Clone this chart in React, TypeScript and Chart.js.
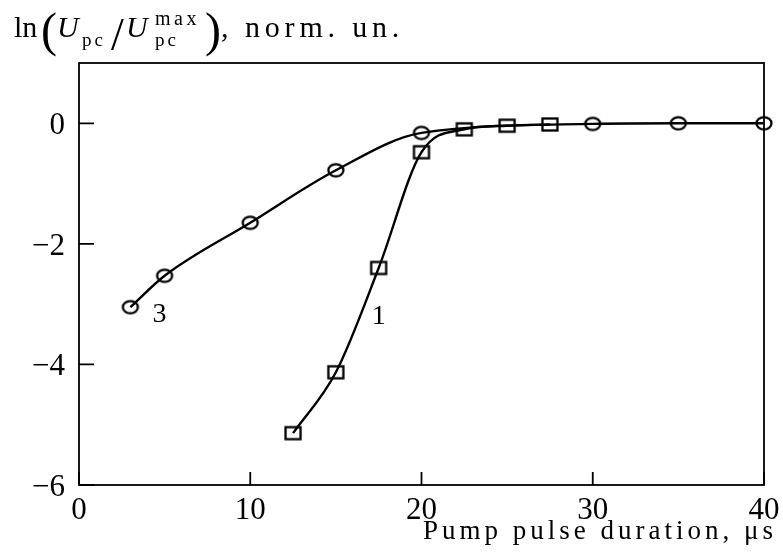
import React, { useEffect, useRef } from 'react';
import { Chart, registerables } from 'chart.js';
Chart.register(...registerables);

const xTicks = [0, 10, 20, 30, 40];
const yTicks = [-6, -4, -2, 0];
const curve3X = [3, 5, 10, 15, 20, 30, 35, 40];
const curve3Y = [-3.05, -2.53, -1.65, -0.78, -0.16, -0.01, 0, 0];
const curve1X = [12.5, 15, 17.5, 20, 22.5, 25, 27.5];
const curve1Y = [-5.14, -4.13, -2.4, -0.48, -0.1, -0.04, -0.02];
const curveLabels = ['3', '1'];
const curveLabelX = [4.7, 17.5];
const curveLabelY = [-3.17, -3.2];
const xTitle = 'Pump pulse duration, μs';
const yTitleMain = 'U';
const yTitleSub = 'pc';
const yTitleSup = 'max';
const yTitleTail = 'norm. un.';

const FAM = '"Liberation Serif", "Times New Roman", serif';

function makeEllipse(): HTMLCanvasElement {
  const c = document.createElement('canvas');
  c.width = 20; c.height = 17;
  const g = c.getContext('2d')!;
  g.strokeStyle = '#000';
  g.lineWidth = 2.3;
  g.beginPath();
  g.ellipse(10, 8.5, 7.5, 6.2, 0, 0, Math.PI * 2);
  g.stroke();
  return c;
}
function makeSquare(): HTMLCanvasElement {
  const c = document.createElement('canvas');
  c.width = 20; c.height = 17;
  const g = c.getContext('2d')!;
  g.strokeStyle = '#000';
  g.lineWidth = 2.3;
  g.strokeRect(2.5, 2.5, 15, 12);
  return c;
}

const fmt = (v: number) => String(v).replace('-', '\u2212');

const framePlugin = {
  id: 'frame',
  afterDraw(chart: any) {
    const ctx: CanvasRenderingContext2D = chart.ctx;
    const { left, right, top, bottom } = chart.chartArea;
    const xs = chart.scales.x;
    const ys = chart.scales.y;
    ctx.save();
    ctx.strokeStyle = '#000';
    ctx.lineWidth = 1.8;
    ctx.strokeRect(left, top, right - left, bottom - top);
    ctx.beginPath();
    yTicks.forEach((v) => {
      const py = ys.getPixelForValue(v);
      ctx.moveTo(left, py);
      ctx.lineTo(left + 15, py);
    });
    xTicks.forEach((v) => {
      const px = xs.getPixelForValue(v);
      ctx.moveTo(px, bottom);
      ctx.lineTo(px, bottom - 13);
    });
    ctx.stroke();

    ctx.fillStyle = '#000';
    ctx.font = `31px ${FAM}`;
    ctx.textBaseline = 'alphabetic';
    ctx.textAlign = 'center';
    xTicks.forEach((v) => {
      ctx.fillText(fmt(v), xs.getPixelForValue(v), bottom + 34);
    });
    ctx.textAlign = 'right';
    yTicks.forEach((v) => {
      ctx.fillText(fmt(v), left - 14, ys.getPixelForValue(v) + 11);
    });

    ctx.textAlign = 'center';
    ctx.textBaseline = 'middle';
    ctx.font = `28px ${FAM}`;
    curveLabels.forEach((t, i) => {
      ctx.fillText(t, xs.getPixelForValue(curveLabelX[i]), ys.getPixelForValue(curveLabelY[i]));
    });

    // x-axis title
    ctx.textAlign = 'left';
    ctx.textBaseline = 'alphabetic';
    (ctx as any).letterSpacing = '4px';
    ctx.font = `27px ${FAM}`;
    ctx.fillText(xTitle, 423, 539);

    // y-axis title
    (ctx as any).letterSpacing = '0px';
    ctx.font = `30px ${FAM}`;
    ctx.fillText('ln', 14, 37);
    ctx.font = `48px ${FAM}`;
    ctx.fillText('(', 41, 46);
    ctx.font = `italic 30px ${FAM}`;
    ctx.fillText(yTitleMain, 57, 37);
    (ctx as any).letterSpacing = '3px';
    ctx.font = `19px ${FAM}`;
    ctx.fillText(yTitleSub, 82, 46);
    (ctx as any).letterSpacing = '0px';
    ctx.font = `46px ${FAM}`;
    ctx.fillText('/', 111, 50);
    ctx.font = `italic 30px ${FAM}`;
    ctx.fillText(yTitleMain, 126, 37);
    (ctx as any).letterSpacing = '3.5px';
    ctx.font = `20px ${FAM}`;
    ctx.fillText(yTitleSup, 155, 25);
    (ctx as any).letterSpacing = '3px';
    ctx.font = `19px ${FAM}`;
    ctx.fillText(yTitleSub, 155, 46);
    (ctx as any).letterSpacing = '0px';
    ctx.font = `48px ${FAM}`;
    ctx.fillText(')', 205, 46);
    ctx.font = `30px ${FAM}`;
    ctx.fillText(',', 221, 37);
    (ctx as any).letterSpacing = '4.8px';
    ctx.fillText(yTitleTail, 245, 37);
    (ctx as any).letterSpacing = '0px';
    ctx.restore();
  },
};

export default function App() {
  const ref = useRef<HTMLCanvasElement>(null);
  useEffect(() => {
    document.body.style.margin = '0';
    const ell = makeEllipse();
    const sq = makeSquare();
    const chart = new Chart(ref.current!, {
      type: 'line',
      data: {
        datasets: [
          {
            label: '3',
            data: curve3X.map((x, i) => ({ x, y: curve3Y[i] })),
            borderColor: '#000',
            borderWidth: 2.4,
            pointStyle: ell as any,
            pointRadius: 8,
            cubicInterpolationMode: 'monotone',
            fill: false,
            clip: false as any,
          },
          {
            label: '1',
            data: curve1X.map((x, i) => ({ x, y: curve1Y[i] })),
            borderColor: '#000',
            borderWidth: 2.4,
            pointStyle: sq as any,
            pointRadius: 8,
            cubicInterpolationMode: 'monotone',
            fill: false,
            clip: false as any,
          },
        ],
      },
      options: {
        responsive: false,
        animation: false,
        devicePixelRatio: 1,
        layout: { padding: { top: 63, right: 19, left: 79, bottom: 71 } },
        plugins: { legend: { display: false }, tooltip: { enabled: false } },
        scales: {
          x: { type: 'linear', min: 0, max: 40, display: false },
          y: { type: 'linear', min: -6, max: 1, display: false },
        },
      },
      plugins: [framePlugin],
    });
    return () => chart.destroy();
  }, []);
  return <canvas ref={ref} width={783} height={556} style={{ display: 'block', width: 783, height: 556 }} />;
}
